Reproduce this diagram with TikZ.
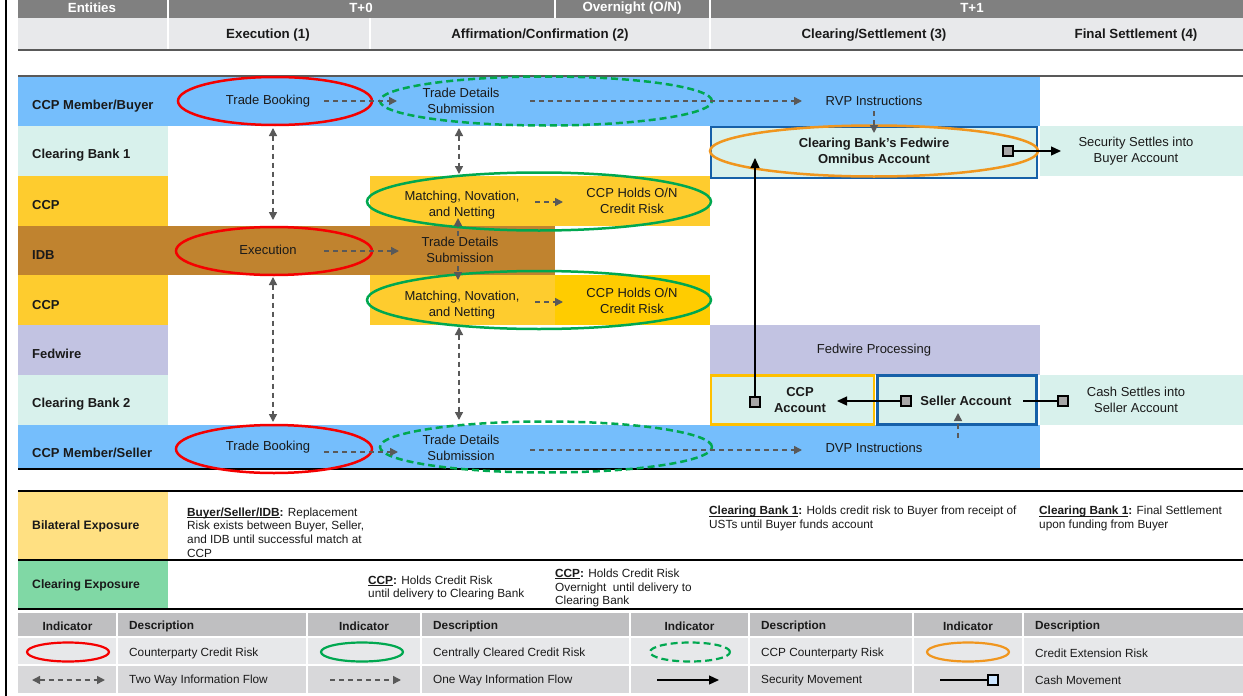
\documentclass[tikz,border=0pt]{standalone}
\usepackage{fontspec}
\setmainfont{Liberation Sans}
\usetikzlibrary{shapes.geometric,arrows.meta}
\definecolor{tcol}{RGB}{26,26,26}
\definecolor{hgray}{RGB}{128,128,128}
\definecolor{hlight}{RGB}{232,233,235}
\definecolor{lblue}{RGB}{117,190,252}
\definecolor{mint}{RGB}{216,241,236}
\definecolor{ylw}{RGB}{254,204,46}
\definecolor{dylw}{RGB}{255,204,0}
\definecolor{brwn}{RGB}{192,131,47}
\definecolor{lav}{RGB}{194,195,226}
\definecolor{bilat}{RGB}{255,224,130}
\definecolor{clrg}{RGB}{128,216,165}
\definecolor{lgh}{RGB}{191,191,193}
\definecolor{lgr1}{RGB}{231,232,234}
\definecolor{lgr2}{RGB}{216,216,218}
\definecolor{rred}{RGB}{245,0,0}
\definecolor{ggreen}{RGB}{0,168,80}
\definecolor{orng}{RGB}{240,150,30}
\definecolor{bxblue}{RGB}{22,96,168}
\definecolor{bxylw}{RGB}{255,192,0}
\definecolor{agray}{RGB}{89,89,89}
\definecolor{sqgray}{RGB}{166,166,166}
\definecolor{sqblue}{RGB}{204,229,255}
\newcommand\ftmain{\fontsize{13}{16}\selectfont}
\newcommand\fthead{\fontsize{13.3}{16}\selectfont}
\newcommand\ftsmall{\fontsize{11.8}{13.8}\selectfont}
\newcommand\ftleg{\fontsize{11.8}{14}\selectfont}
\newcommand\myul[1]{\setbox0\hbox{#1}\rlap{\rule[-1.7pt]{\wd0}{0.7pt}}\box0}
\begin{document}
\begin{tikzpicture}[x=1pt,y=-1pt,
 txt/.style={font=\ftmain, align=center, inner sep=0pt, text=tcol},
 btxt/.style={font=\ftmain\bfseries, align=center, inner sep=0pt, text=tcol},
 ent/.style={font=\ftmain\bfseries, anchor=west, inner sep=0pt, text=tcol},
 hd/.style={font=\fthead\bfseries, inner sep=0pt, text=tcol},
 small/.style={font=\ftsmall, align=left, anchor=west, inner sep=0pt, text=tcol},
 legt/.style={font=\ftleg, anchor=west, inner sep=0pt, text=tcol},
 legh/.style={font=\ftleg\bfseries, inner sep=0pt, text=tcol},
 oneway/.style={draw=agray, line width=1.5pt, dash pattern=on 5pt off 4pt, arrows={-Triangle[length=8pt,width=8pt]}},
 twoway/.style={draw=agray, line width=1.5pt, dash pattern=on 5pt off 4pt, arrows={Triangle[length=8pt,width=8pt]-Triangle[length=8pt,width=8pt]}},
 secmove/.style={draw=black, line width=1.3pt, arrows={-Triangle[length=10pt,width=9pt]}},
 cashline/.style={draw=black, line width=1.3pt},
 sq/.style={rectangle, draw=black, fill=sqgray, line width=1.3pt, minimum size=10pt, inner sep=0pt},
 ell/.style={ellipse, line width=2.5pt, inner sep=0pt},
 dell/.style={ellipse, line width=2.5pt, inner sep=0pt, draw=ggreen, dash pattern=on 7pt off 4pt},
 sepw/.style={draw=white, line width=1.5pt}
]
\useasboundingbox (0,0) rectangle (1243,696);
\fill[white] (0,0) rectangle (1243,696);
% left border
\draw[black, line width=2pt] (6,0) -- (6,696);
% ---------- header ----------
\fill[hgray] (18,0) rectangle (1243,18);
\fill[hlight] (18,18) rectangle (1243,50);
\foreach \xx in {168,555,710} \draw[sepw] (\xx,0) -- (\xx,18);
\foreach \xx in {168,370,710} \draw[sepw] (\xx,18) -- (\xx,50);
\draw[agray, line width=1.8pt] (18,50) -- (1243,50);
\node[hd, text=white] (hEnt) at (92,8) {Entities};
\node[hd, text=white] (hT0) at (361,8) {T+0};
\node[hd, text=white] (hON) at (632,8) {Overnight (O/N)};
\node[hd, text=white] (hT1) at (972,8) {T+1};
\node[hd] (hExe) at (268,35) {Execution (1)};
\node[hd] (hAff) at (540,35) {Affirmation/Confirmation (2)};
\node[hd] (hClr) at (874,35) {Clearing/Settlement (3)};
\node[hd] (hFin) at (1136,35) {Final Settlement (4)};
% ---------- row fills ----------
\fill[lblue] (18,76) rectangle (1040,126);
\fill[mint] (18,126) rectangle (168,176);
\fill[mint] (1040,126) rectangle (1243,176);
\fill[ylw] (18,176) rectangle (168,226);
\fill[ylw] (370,176) rectangle (710,226);
\fill[brwn] (18,226) rectangle (555,275);
\fill[ylw] (18,275) rectangle (168,325);
\fill[ylw] (370,275) rectangle (555,325);
\fill[dylw] (555,275) rectangle (710,325);
\fill[lav] (18,325) rectangle (168,375);
\fill[lav] (710,325) rectangle (1040,375);
\fill[mint] (18,375) rectangle (168,425);
\fill[mint] (1040,375) rectangle (1243,425);
\fill[lblue] (18,425) rectangle (1040,469);
\draw[agray, line width=1.2pt] (18,76) -- (1243,76);
\draw[black, line width=1.2pt] (18,469) -- (1243,469);
% entity labels
\node[ent] (lBuyer) at (32,106) {CCP Member/Buyer};
\node[ent] (lCB1) at (32,155) {Clearing Bank 1};
\node[ent] (lCCP1) at (32,205) {CCP};
\node[ent] (lIDB) at (32,255) {IDB};
\node[ent] (lCCP2) at (32,305) {CCP};
\node[ent] (lFed) at (32,354) {Fedwire};
\node[ent] (lCB2) at (32,404) {Clearing Bank 2};
\node[ent] (lSeller) at (32,453) {CCP Member/Seller};
% ---------- boxes ----------
\node[rectangle, draw=bxblue, fill=mint, line width=2pt, minimum width=326pt, minimum height=51pt, inner sep=0pt] (omniBox) at (873.5,152) {};
\node[rectangle, draw=bxylw, fill=mint, line width=2.4pt, minimum width=163pt, minimum height=49pt, inner sep=0pt] (ccpBox) at (792.5,400) {};
\node[rectangle, draw=bxblue, fill=mint, line width=2.2pt, minimum width=159pt, minimum height=49pt, inner sep=0pt] (selBox) at (957,400) {};
% ---------- ellipses ----------
\node[ell, draw=rred, minimum width=194pt, minimum height=48pt] (eTB1) at (275,101) {};
\node[dell, minimum width=332pt, minimum height=49pt] (eTD1) at (546,101) {};
\node[ell, draw=orng, minimum width=328pt, minimum height=51pt] (eOmni) at (874,151) {};
\node[ell, draw=ggreen, minimum width=344pt, minimum height=58pt] (eMN1) at (539,201.5) {};
\node[ell, draw=rred, minimum width=196pt, minimum height=48pt] (eExe) at (274,251) {};
\node[ell, draw=ggreen, minimum width=344pt, minimum height=58pt] (eMN2) at (539,300) {};
\node[ell, draw=rred, minimum width=196pt, minimum height=48pt] (eTB2) at (274,449) {};
\node[dell, minimum width=332pt, minimum height=51pt] (eTD3) at (546,447) {};
% ---------- texts ----------
\node[txt] (tb1) at (268,101) {Trade Booking};
\node[txt] (tds1) at (461,101) {Trade Details\\Submission};
\node[txt] (rvp) at (874,101) {RVP Instructions};
\node[btxt] (omni) at (874,151) {Clearing Bank’s Fedwire\\Omnibus Account};
\node[txt] (secBuy) at (1136,151) {Security Settles into\\Buyer Account};
\node[txt] (mnn1) at (462,205) {Matching, Novation,\\and Netting};
\node[txt] (ccph1) at (632,201) {CCP Holds O/N\\Credit Risk};
\node[txt] (exe) at (268,250) {Execution};
\node[txt] (tds2) at (460,250) {Trade Details\\Submission};
\node[txt] (mnn2) at (462,305) {Matching, Novation,\\and Netting};
\node[txt] (ccph2) at (632,301) {CCP Holds O/N\\Credit Risk};
\node[txt] (fedp) at (874,350) {Fedwire Processing};
\node[btxt] (ccpacc) at (800,400) {CCP\\Account};
\node[btxt] (selacc) at (966,401) {Seller Account};
\node[txt] (cashSel) at (1136,400) {Cash Settles into\\Seller Account};
\node[txt] (tb2) at (268,447) {Trade Booking};
\node[txt] (tds3) at (461,448) {Trade Details\\Submission};
\node[txt] (dvp) at (874,448) {DVP Instructions};
% ---------- squares ----------
\node[sq] (sq1) at (1008,151) {};
\node[sq] (sq2) at (755,402) {};
\node[sq] (sq3) at (906,401) {};
\node[sq] (sq4) at (1063,401) {};
% ---------- arrow coordinates ----------
\coordinate (a1s) at (324,101); \coordinate (a1e) at (397,101);
\coordinate (a2s) at (530,101); \coordinate (a2e) at (802,101);
\coordinate (a3s) at (874,111); \coordinate (a3e) at (874,133);
\coordinate (a4s) at (324,251); \coordinate (a4e) at (399,251);
\coordinate (a5s) at (535,202); \coordinate (a5e) at (563,202);
\coordinate (a6s) at (535,302); \coordinate (a6e) at (563,302);
\coordinate (a7s) at (324,452); \coordinate (a7e) at (398,452);
\coordinate (a8s) at (530,450); \coordinate (a8e) at (802,450);
\coordinate (a9s) at (958,438); \coordinate (a9e) at (958,413);
\coordinate (v1a) at (273,128); \coordinate (v1b) at (273,220);
\coordinate (v2a) at (273,277); \coordinate (v2b) at (273,422);
\coordinate (v3a) at (459,128); \coordinate (v3b) at (459,174);
\coordinate (v4s) at (458,236); \coordinate (v4e) at (458,218);
\coordinate (v5s) at (458,266); \coordinate (v5e) at (458,280);
\coordinate (v6a) at (459,327); \coordinate (v6b) at (459,420);
\coordinate (s1e) at (1061,151);
\coordinate (s2e) at (755,158);
\coordinate (s3e) at (837,401);
\coordinate (c1s) at (1023,401);
% ---------- arrows ----------
\draw[oneway] (a1s) -- (a1e);
\draw[oneway] (a2s) -- (a2e);
\draw[oneway] (a3s) -- (a3e);
\draw[oneway] (a4s) -- (a4e);
\draw[oneway] (a5s) -- (a5e);
\draw[oneway] (a6s) -- (a6e);
\draw[oneway] (a7s) -- (a7e);
\draw[oneway] (a8s) -- (a8e);
\draw[oneway] (a9s) -- (a9e);
\draw[twoway] (v1a) -- (v1b);
\draw[twoway] (v2a) -- (v2b);
\draw[twoway] (v3a) -- (v3b);
\draw[oneway] (v4s) -- (v4e);
\draw[oneway] (v5s) -- (v5e);
\draw[twoway] (v6a) -- (v6b);
\draw[secmove] (sq1.east) -- (s1e);
\draw[secmove] (sq2.north) -- (s2e);
\draw[secmove] (sq3.west) -- (s3e);
\draw[cashline] (c1s) -- (sq4.west);
% ---------- exposure section ----------
\fill[bilat] (18,491) rectangle (168,560);
\fill[clrg] (18,560) rectangle (168,609);
\draw[black, line width=1.5pt] (18,491) -- (1243,491);
\draw[black, line width=1.5pt] (18,560) -- (1243,560);
\draw[black, line width=2.2pt] (18,609) -- (1243,609);
\node[ent, font=\fontsize{12.2}{14}\selectfont\bfseries] (lBil) at (32,526) {Bilateral Exposure};
\node[ent, font=\fontsize{12.2}{14}\selectfont\bfseries] (lClr) at (32,585) {Clearing Exposure};
\node[small] (bil1) at (187,532.5) {\textbf{\myul{Buyer/Seller/IDB}:} Replacement\\Risk exists between Buyer, Seller,\\and IDB until successful match at\\CCP};
\node[small] (bil2) at (709,518.5) {\textbf{\myul{Clearing Bank 1}:} Holds credit risk to Buyer from receipt of\\USTs until Buyer funds account};
\node[small] (bil3) at (1039,518.5) {\textbf{\myul{Clearing Bank 1}:} Final Settlement\\upon funding from Buyer};
\node[small] (clr1) at (368,588) {\textbf{\myul{CCP}:} Holds Credit Risk\\until delivery to Clearing Bank};
\node[small] (clr2) at (555,588) {\textbf{\myul{CCP}:} Holds Credit Risk\\Overnight\ \ until delivery to\\Clearing Bank};
% ---------- legend ----------
\fill[lgh] (18,613) rectangle (1243,637);
\fill[lgr1] (18,637) rectangle (1243,665);
\fill[lgr2] (18,665) rectangle (1243,693);
\foreach \xx in {117,307,421,630,749,913,1023} \draw[sepw, line width=2pt] (\xx,613) -- (\xx,693);
\draw[sepw, line width=2pt] (18,637) -- (1243,637);
\draw[sepw, line width=2pt] (18,665) -- (1243,665);
\node[legh] (gI1) at (67.5,626) {Indicator};
\node[legh] (gI2) at (364,626) {Indicator};
\node[legh] (gI3) at (689.5,626) {Indicator};
\node[legh] (gI4) at (968,626) {Indicator};
\node[legh, anchor=west] (gD1) at (129,626) {Description};
\node[legh, anchor=west] (gD2) at (433,626) {Description};
\node[legh, anchor=west] (gD3) at (761,626) {Description};
\node[legh, anchor=west] (gD4) at (1035,626) {Description};
\node[ell, draw=rred, line width=2.2pt, minimum width=82pt, minimum height=19pt] (gE1) at (68,652) {};
\node[ell, draw=ggreen, line width=2.2pt, minimum width=82pt, minimum height=19pt] (gE2) at (362,652) {};
\node[dell, line width=2.2pt, minimum width=80pt, minimum height=19pt] (gE3) at (690,652) {};
\node[ell, draw=orng, line width=2.2pt, minimum width=82pt, minimum height=19pt] (gE4) at (968,652) {};
\node[legt] (gT1) at (129,653) {Counterparty Credit Risk};
\node[legt] (gT2) at (433,653) {Centrally Cleared Credit Risk};
\node[legt] (gT3) at (761,653) {CCP Counterparty Risk};
\node[legt] (gT4) at (1035,653) {Credit Extension Risk};
\coordinate (g1a) at (32,680); \coordinate (g1b) at (105,680);
\coordinate (g2a) at (330,680); \coordinate (g2b) at (401,680);
\coordinate (g3a) at (657,680); \coordinate (g3b) at (719,680);
\coordinate (g4a) at (940,680);
\node[sq, fill=sqblue, line width=1.2pt] (gSq) at (993,680) {};
\draw[twoway] (g1a) -- (g1b);
\draw[oneway] (g2a) -- (g2b);
\draw[secmove] (g3a) -- (g3b);
\draw[cashline] (g4a) -- (gSq.west);
\node[legt] (gT5) at (129,680) {Two Way Information Flow};
\node[legt] (gT6) at (433,680) {One Way Information Flow};
\node[legt] (gT7) at (761,680) {Security Movement};
\node[legt] (gT8) at (1035,680) {Cash Movement};
\end{tikzpicture}
\end{document}
